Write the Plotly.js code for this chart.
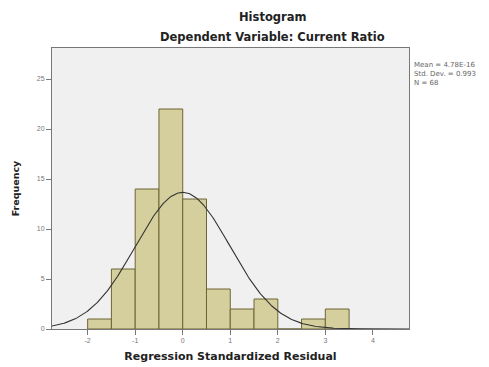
<!DOCTYPE html>
<html>
<head>
<meta charset="utf-8">
<script src="https://cdn.plot.ly/plotly-3.0.1.min.js"></script>
<style>html,body{margin:0;padding:0;background:#fff;}#chart{width:489px;height:367px;}</style>
</head>
<body>
<div id="chart"></div>
<script>
var binCenters = [-1.75, -1.25, -0.75, -0.25, 0.25, 0.75, 1.25, 1.75, 2.25, 2.75, 3.25];
var binCounts  = [1, 6, 14, 22, 13, 4, 2, 3, 0, 1, 2];
var binWidth = 0.5;
var meanVal = 4.78e-16;
var sdVal = 0.993;
var nVal = 68;
var statsLines = ["Mean = 4.78E-16", "Std. Dev. = 0.993", "N = 68"];
var xTicks = [-2, -1, 0, 1, 2, 3, 4];
var yTicks = [0, 5, 10, 15, 20, 25];

// normal curve derived from the reported mean, SD and N
var cx = [], cy = [];
for (var i = 0; i <= 300; i++) {
  var x = -2.75 + i * (4.76 + 2.75) / 300;
  cx.push(x);
  cy.push(nVal * binWidth / (sdVal * Math.sqrt(2 * Math.PI)) * Math.exp(-0.5 * Math.pow((x - meanVal) / sdVal, 2)));
}

var BOLD = 'DejaVu Sans, Verdana, sans-serif';

var traces = [
  {type: 'bar', x: binCenters, y: binCounts, width: binWidth,
   marker: {color: '#d4cf9c', line: {color: '#6e6535', width: 1}}, hoverinfo: 'skip'},
  {type: 'scatter', mode: 'lines', x: cx, y: cy, line: {color: '#333333', width: 1.1}, hoverinfo: 'skip'}
];

var layout = {
  width: 489, height: 367,
  margin: {l: 52, r: 80, t: 48, b: 38},
  paper_bgcolor: '#ffffff', plot_bgcolor: '#f0f0f0',
  showlegend: false,
  font: {family: 'Liberation Sans, Arial, sans-serif', color: '#222'},
  bargap: 0,
  xaxis: {range: [-2.75, 4.76], tickvals: xTicks, ticktext: xTicks.map(String),
    showgrid: false, zeroline: false, showline: true, linecolor: '#777', linewidth: 1, mirror: true,
    ticks: 'outside', ticklen: 5, tickcolor: '#777', tickfont: {size: 7, color: '#777'},
    title: {text: 'Regression Standardized Residual', font: {family: BOLD, size: 11, color: '#222', weight: 'bold'}, standoff: 8}},
  yaxis: {range: [0, 28.1], tickvals: yTicks, ticktext: yTicks.map(String),
    showgrid: false, zeroline: false, showline: true, linecolor: '#777', linewidth: 1, mirror: true,
    ticks: 'outside', ticklen: 5, tickcolor: '#777', tickfont: {size: 7, color: '#777'},
    title: {text: 'Frequency', font: {family: BOLD, size: 9.5, color: '#222', weight: 'bold'}, standoff: 15}},
  annotations: [
    {xref: 'paper', yref: 'paper', x: (272 - 52) / 357, y: (367 - 38 - 17) / 281, xanchor: 'center', yanchor: 'middle',
     text: '<b>Histogram</b>', showarrow: false, font: {family: BOLD, size: 11.5, color: '#222'}},
    {xref: 'paper', yref: 'paper', x: (272 - 52) / 357, y: (367 - 38 - 37) / 281, xanchor: 'center', yanchor: 'middle',
     text: '<b>Dependent Variable: Current Ratio</b>', showarrow: false, font: {family: BOLD, size: 11.5, color: '#222'}},
    {xref: 'paper', yref: 'paper', x: (412 - 52) / 357, y: (367 - 38 - 59) / 281, xanchor: 'left', yanchor: 'top', align: 'left',
     text: statsLines.join('<br>'), showarrow: false, font: {family: BOLD, size: 7, color: '#666'}}
  ]
};

Plotly.newPlot('chart', traces, layout, {displayModeBar: false, staticPlot: true});
</script>
</body>
</html>
